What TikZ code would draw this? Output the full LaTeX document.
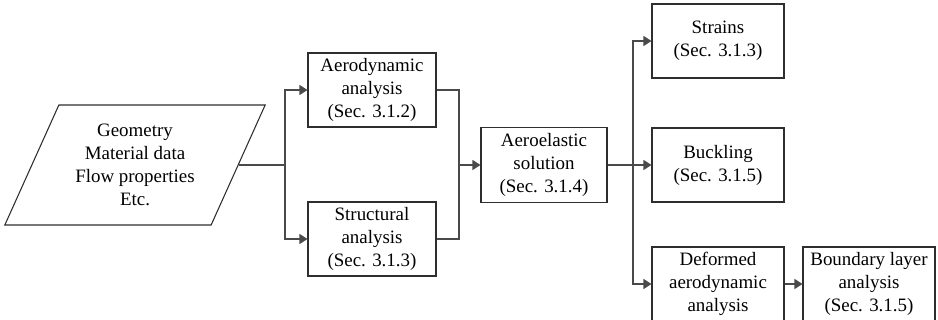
\documentclass[tikz,border=0pt]{standalone}
\usepackage{fontspec}
\setmainfont{Liberation Serif}
\usepackage{tikz}
\usetikzlibrary{arrows.meta,positioning,shapes.geometric}
\definecolor{LineGray}{HTML}{2E2E2E}
\definecolor{LinkGray}{HTML}{4A4A4A}

\begin{document}
\begin{tikzpicture}[x=0.75pt,y=-0.75pt,>={Triangle[length=6pt,width=7.5pt]},
 every node/.style={font=\fontsize{14.2}{17.3}\selectfont},
 box/.style={draw=LineGray,line width=0.8pt,fill=white,
             minimum width=96pt,minimum height=55.5pt,align=center,inner sep=2pt},
 wbox/.style={box,minimum width=99pt},
 link/.style={draw=LinkGray,line width=0.9pt}]
\useasboundingbox (0,0) rectangle (938,320);
\node[draw=LineGray,line width=0.8pt,trapezium,trapezium stretches=true,
      trapezium left angle=63.4,trapezium right angle=116.6,
      minimum width=195.5pt,minimum height=90pt,align=center] (in) at (135,165)
      {Geometry\\Material data\\Flow properties\\Etc.};
\node[box] (aero) at (372,90) {Aerodynamic\\analysis\\(Sec. 3.1.2)};
\node[box] (str) at (372,239) {Structural\\analysis\\(Sec. 3.1.3)};
\node[box,minimum width=94.5pt,minimum height=56pt] (ael) at (544,165) {Aeroelastic\\solution\\(Sec. 3.1.4)};
\node[wbox] (sn) at (718,41) {Strains\\(Sec. 3.1.3)};
\node[wbox] (bk) at (718,165) {Buckling\\(Sec. 3.1.5)};
\node[wbox] (def) at (718,284) {Deformed\\aerodynamic\\analysis};
\node[wbox] (bl) at (869,284) {Boundary layer\\analysis\\(Sec. 3.1.5)};
\coordinate (s1) at (285,165);
\coordinate (m1) at (459,165);
\coordinate (s2) at (633,165);
% inputs to the two analyses
\draw[link] (in.east) -- (s1);
\draw[link,->] (s1) |- (aero.west);
\draw[link,->] (s1) |- (str.west);
\draw[link] (aero.east) -| (m1);
\draw[link] (str.east) -| (m1);
\draw[link,->] (m1) -- (ael.west);
% outputs
\draw[link] (ael.east) -- (s2);
\draw[link,->] (s2) |- (sn.west);
\draw[link,->] (s2) -- (bk.west);
\draw[link,->] (s2) |- (def.west);
\draw[link,->] (def) -- (bl);
\end{tikzpicture}
\end{document}
